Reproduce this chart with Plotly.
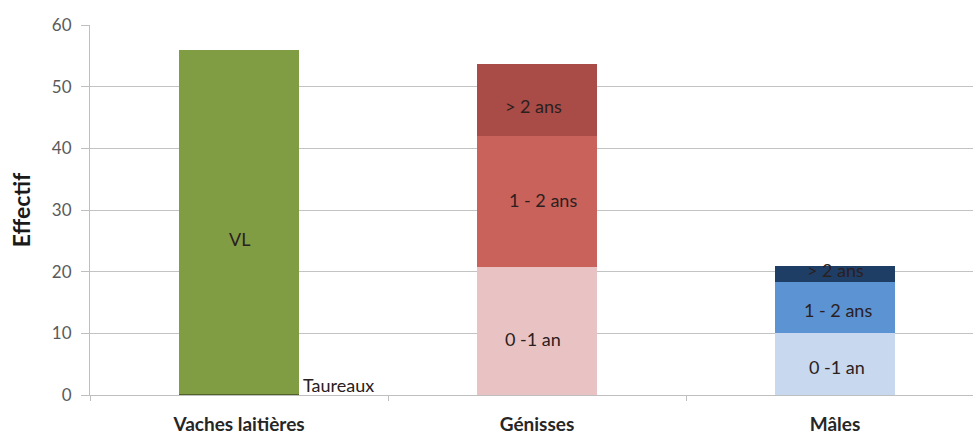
import plotly.graph_objects as go

# Categories on the x axis
categories = ["Vaches laitières", "Génisses", "Mâles"]

# Dairy cows and bulls
vl_value = 55.7
taureaux_value = 0.2

# Heifers by age class
genisses_labels = ["0 -1 an", "1 - 2 ans", "> 2 ans"]
genisses_values = [20.7, 21.3, 11.7]
genisses_colors = ["#e9c3c3", "#c9625b", "#a94b46"]

# Males by age class
males_labels = ["0 -1 an", "1 - 2 ans", "> 2 ans"]
males_values = [10, 8.3, 2.7]
males_colors = ["#c7d8ef", "#5b93d3", "#1f3e66"]

BAR_W = 0.4
FAMILY = "Lato, Open Sans, sans-serif"
LABEL_FONT = dict(family=FAMILY, size=18, color="#2b2020")

fig = go.Figure()

fig.add_trace(go.Bar(x=[categories[0]], y=[taureaux_value], width=BAR_W,
                     marker=dict(color="#4f6228", line=dict(width=0)),
                     name="Taureaux", hoverinfo="y"))
fig.add_trace(go.Bar(x=[categories[0]], y=[vl_value], width=BAR_W,
                     marker=dict(color="#819d44", line=dict(width=0)),
                     name="VL", hoverinfo="y"))

for lab, val, col in zip(genisses_labels, genisses_values, genisses_colors):
    fig.add_trace(go.Bar(x=[categories[1]], y=[val], width=BAR_W,
                         marker=dict(color=col, line=dict(width=0)),
                         name="Génisses " + lab, hoverinfo="y"))

for lab, val, col in zip(males_labels, males_values, males_colors):
    fig.add_trace(go.Bar(x=[categories[2]], y=[val], width=BAR_W,
                         marker=dict(color=col, line=dict(width=0)),
                         name="Mâles " + lab, hoverinfo="y"))

annotations = []
# VL label inside the green bar
annotations.append(dict(x=categories[0], y=taureaux_value + vl_value / 2, text="VL",
                        showarrow=False, yshift=-17, font=LABEL_FONT))
# Bulls label just right of the green bar, at its base
annotations.append(dict(x=0 + BAR_W / 2, xref="x", y=taureaux_value, text="Taureaux",
                        showarrow=False, xanchor="left", yanchor="bottom", xshift=2,
                        yshift=-4, font=LABEL_FONT))

# Stacked segment labels centred on each segment
def stack_labels(cat_index, labels, values, shifts, xshifts):
    base = 0
    for lab, val, sh, xs in zip(labels, values, shifts, xshifts):
        annotations.append(dict(x=cat_index, xref="x", y=base + val / 2, text=lab,
                                showarrow=False, yshift=sh, xshift=xs, font=LABEL_FONT))
        base += val

stack_labels(1, genisses_labels, genisses_values, [-8, 2, -6], [-4, 6, -4])
stack_labels(2, males_labels, males_values, [-3, -2, 4], [2, 3, 0])

fig.update_layout(
    barmode="stack",
    width=973, height=439,
    margin=dict(l=90, r=0, t=25, b=44),
    paper_bgcolor="white", plot_bgcolor="white",
    showlegend=False,
    bargap=0,
    annotations=annotations,
    font=dict(family=FAMILY),
)

fig.update_xaxes(
    type="category",
    range=[-0.5, 2.463],
    showline=True, linecolor="#bfbfbf", linewidth=1,
    ticks="outside", tickson="boundaries", ticklen=5, tickcolor="#bfbfbf",
    ticklabelstandoff=12,
    tickfont=dict(family=FAMILY, size=19, color="#262626", weight="bold"),
    showgrid=False,
)

fig.update_yaxes(
    range=[0, 60], dtick=10,
    showgrid=True, gridcolor="#c3c3c3", gridwidth=1,
    showline=True, linecolor="#bfbfbf", linewidth=1,
    ticks="outside", ticklen=8, tickcolor="#bfbfbf",
    ticklabelstandoff=6,
    tickfont=dict(family=FAMILY, size=17, color="#5a5a5a"),
    zeroline=False,
    title=dict(text="<b>Effectif</b>", standoff=14,
               font=dict(family=FAMILY, size=23, color="#1a1a1a")),
)

fig.write_html("out.html")
